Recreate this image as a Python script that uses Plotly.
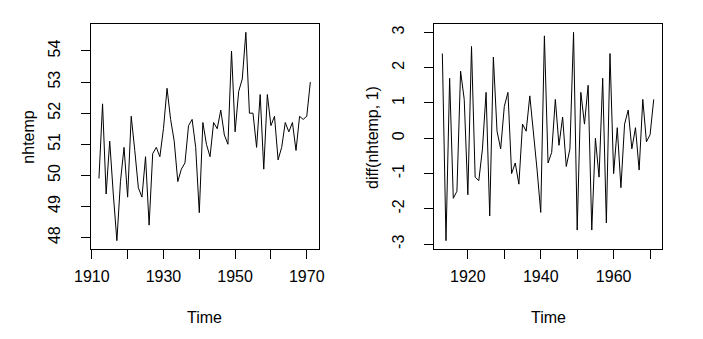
import numpy as np
import plotly.graph_objects as go

# Average annual temperature in New Haven (deg F), 1912-1971
years = list(range(1912, 1972))
nhtemp = [49.9, 52.3, 49.4, 51.1, 49.4, 47.9, 49.8, 50.9, 49.3, 51.9,
          50.8, 49.6, 49.3, 50.6, 48.4, 50.7, 50.9, 50.6, 51.5, 52.8,
          51.8, 51.1, 49.8, 50.2, 50.4, 51.6, 51.8, 50.9, 48.8, 51.7,
          51.0, 50.6, 51.7, 51.5, 52.1, 51.3, 51.0, 54.0, 51.4, 52.7,
          53.1, 54.6, 52.0, 52.0, 50.9, 52.6, 50.2, 52.6, 51.6, 51.9,
          50.5, 50.9, 51.7, 51.4, 51.7, 50.8, 51.9, 51.8, 51.9, 53.0]

# First differences: diff(nhtemp, 1)
diff_years = years[1:]
diff_vals = np.round(np.diff(nhtemp), 1)

left_xticks = [1910, 1920, 1930, 1940, 1950, 1960, 1970]
left_xlabels = ["1910", "", "1930", "", "1950", "", "1970"]
right_xticks = [1920, 1930, 1940, 1950, 1960, 1970]
right_xlabels = ["1920", "", "1940", "", "1960", ""]
left_yticks = [48, 49, 50, 51, 52, 53, 54]
right_yticks = [-3, -2, -1, 0, 1, 2, 3]

W, H = 703, 339
FONT = "Liberation Sans, Arial"
FS = 16


def pad_range(vals, frac=0.04):
    lo, hi = float(min(vals)), float(max(vals))
    d = (hi - lo) * frac
    return [lo - d, hi + d]


def domains(x0, x1, y0, y1):
    return [x0 / W, x1 / W], [1 - y1 / H, 1 - y0 / H]


lx, ly = domains(76, 312, 24, 249)
rx, ry = domains(431, 667, 24, 249)

fig = go.Figure()
fig.add_trace(go.Scatter(x=years, y=nhtemp, mode="lines",
                         line=dict(color="black", width=1),
                         xaxis="x", yaxis="y", hoverinfo="skip"))
fig.add_trace(go.Scatter(x=diff_years, y=diff_vals, mode="lines",
                         line=dict(color="black", width=1),
                         xaxis="x2", yaxis="y2", hoverinfo="skip"))

axis_style = dict(showline=True, mirror=True, linecolor="black", linewidth=1,
                  ticks="outside", ticklen=9, tickwidth=1, tickcolor="black",
                  showgrid=False, zeroline=False, fixedrange=True,
                  tickfont=dict(family=FONT, size=FS, color="#000"))

fig.update_layout(
    width=W, height=H,
    margin=dict(l=0, r=0, t=0, b=0),
    paper_bgcolor="white", plot_bgcolor="white",
    showlegend=False,
    font=dict(family=FONT, size=FS, color="#000"),
    xaxis=dict(domain=lx, range=pad_range(years), tickmode="array",
               tickvals=left_xticks, ticktext=left_xlabels, anchor="y",
               ticklabelstandoff=4, **axis_style),
    yaxis=dict(domain=ly, range=pad_range(nhtemp), tickmode="array",
               tickvals=left_yticks, ticktext=[str(v) for v in left_yticks],
               tickangle=-90, anchor="x", ticklabelstandoff=14, **axis_style),
    xaxis2=dict(domain=rx, range=pad_range(diff_years), tickmode="array",
                tickvals=right_xticks, ticktext=right_xlabels, anchor="y2",
                ticklabelstandoff=4, **axis_style),
    yaxis2=dict(domain=ry, range=pad_range(diff_vals), tickmode="array",
                tickvals=right_yticks, ticktext=[str(v) for v in right_yticks],
                tickangle=-90, anchor="x2", ticklabelstandoff=14, **axis_style),
    annotations=[
        dict(text="Time", x=194 / W, y=1 - 317 / H, xref="paper", yref="paper",
             showarrow=False, xanchor="center", yanchor="middle", font=dict(size=FS)),
        dict(text="Time", x=549 / W, y=1 - 317 / H, xref="paper", yref="paper",
             showarrow=False, xanchor="center", yanchor="middle", font=dict(size=FS)),
        dict(text="nhtemp", x=11 / W, y=1 - 137 / H, xref="paper", yref="paper",
             showarrow=False, textangle=-90, xanchor="center", yanchor="middle",
             font=dict(size=FS)),
        dict(text="diff(nhtemp, 1)", x=367 / W, y=1 - 137 / H, xref="paper", yref="paper",
             showarrow=False, textangle=-90, xanchor="center", yanchor="middle",
             font=dict(size=FS)),
    ],
)

fig.write_html("out.html")
